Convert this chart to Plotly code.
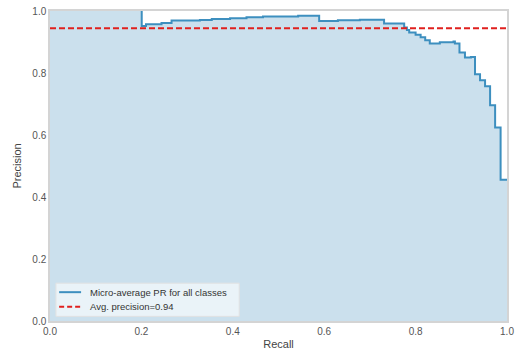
import plotly.graph_objects as go

recall = [0.0, 0.2007, 0.21, 0.244, 0.266, 0.328, 0.354, 0.394, 0.430, 0.466, 0.543,
          0.589, 0.630, 0.678, 0.731, 0.775, 0.781, 0.786, 0.800, 0.811, 0.821, 0.831,
          0.853, 0.883, 0.886, 0.896, 0.908, 0.921, 0.930, 0.941, 0.952, 0.963, 0.974,
          0.986, 1.0]
precision = [1.0, 0.952, 0.957, 0.961, 0.969, 0.971, 0.974, 0.977, 0.980, 0.982, 0.985,
             0.968, 0.970, 0.972, 0.960, 0.947, 0.939, 0.931, 0.923, 0.915, 0.906, 0.895,
             0.899, 0.902, 0.895, 0.866, 0.850, 0.852, 0.796, 0.777, 0.757, 0.696, 0.624,
             0.456, 0.456]
avg_precision = 0.944
avg_label = "Avg. precision=0.94"
curve_label = "Micro-average PR for all classes"
tick_vals = [0, 0.2, 0.4, 0.6, 0.8, 1.0]

line_color = "#3d8fbf"
fill_color = "#cbe0ed"
red = "#e0201e"

fig = go.Figure()
# filled area under the step curve
fig.add_trace(go.Scatter(
    x=recall, y=precision, mode="lines", line_shape="hv",
    line=dict(color="rgba(0,0,0,0)", width=0), fill="tozeroy", fillcolor=fill_color,
    showlegend=False, hoverinfo="skip"))
# the curve (top segment at 1.0 hidden by the frame in the original)
fig.add_trace(go.Scatter(
    x=[recall[1]] + recall[1:], y=[precision[0]] + precision[1:], mode="lines",
    line_shape="hv", line=dict(color=line_color, width=2), name=curve_label,
    showlegend=False))
fig.add_trace(go.Scatter(
    x=[0, 1], y=[avg_precision, avg_precision], mode="lines",
    line=dict(color=red, width=2, dash="6px,3px"), name=avg_label, showlegend=False))

axis_common = dict(
    showgrid=False, zeroline=False, showline=True, linecolor="#d4d4d4", linewidth=1.5,
    mirror=True, ticks="", tickfont=dict(size=10, color="#555555"),
    title_font=dict(size=11, color="#444444"), layer="above traces", automargin=False)

fig.update_xaxes(range=[0, 1], tickvals=tick_vals, tickformat=".1f",
                 title_text="Recall", title_standoff=6, **axis_common)
fig.update_yaxes(range=[0, 1], tickvals=tick_vals, tickformat=".1f",
                 title_text="Precision", title_standoff=8, **axis_common)

# manual legend (box, sample lines, labels)
fig.add_shape(type="rect", xref="x domain", yref="y domain", x0=0.013, x1=0.414,
              y0=0.015, y1=0.122, fillcolor="rgba(255,255,255,0.6)",
              line=dict(color="#e2e2e2", width=1), layer="above")
fig.add_shape(type="line", xref="x domain", yref="y domain", x0=0.020, x1=0.068,
              y0=0.093, y1=0.093, line=dict(color=line_color, width=2), layer="above")
fig.add_shape(type="line", xref="x domain", yref="y domain", x0=0.020, x1=0.068,
              y0=0.046, y1=0.046, line=dict(color=red, width=2, dash="5px,3px"),
              layer="above")
for yy, txt in [(0.093, curve_label), (0.046, avg_label)]:
    fig.add_annotation(xref="x domain", yref="y domain", x=0.083, y=yy, text=txt,
                       showarrow=False, xanchor="left", yanchor="middle",
                       font=dict(size=9.5, color="#333333"))

fig.update_layout(
    width=516, height=350, margin=dict(l=50, r=9, t=11, b=29),
    plot_bgcolor="white", paper_bgcolor="white",
    font=dict(family="Liberation Sans, Arial, sans-serif", color="#444444"),
    showlegend=False)

fig.write_html("out.html")
